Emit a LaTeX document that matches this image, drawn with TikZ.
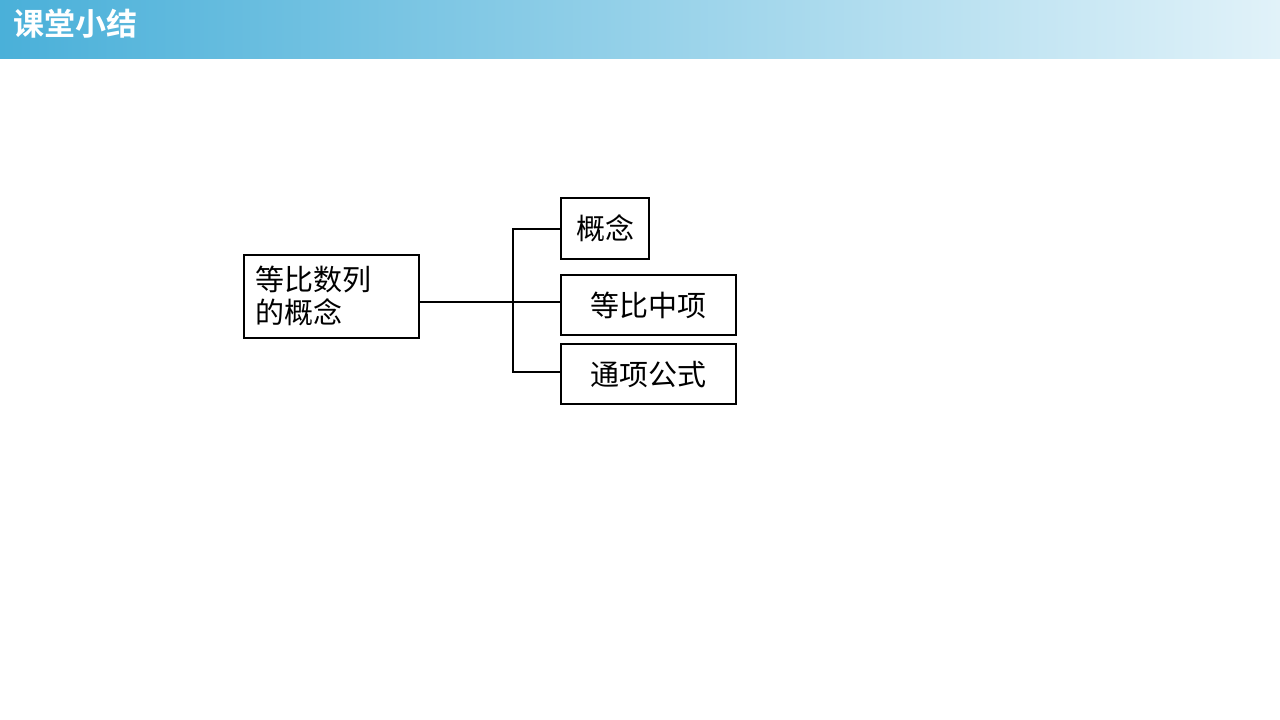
\documentclass[tikz,border=0pt]{standalone}
\usepackage{fontspec}
\newfontfamily\cjk{Noto Sans CJK SC}
\newfontfamily\cjkb{Noto Sans CJK SC Bold}
\begin{document}
\begin{tikzpicture}[x=1pt,y=-1pt,
  box/.style={draw,line width=2.2pt,inner sep=0pt,font=\cjk\fontsize{29}{33}\selectfont},
  conn/.style={line width=2pt}]
\useasboundingbox (0,0) rectangle (1280,720);
\fill[white] (0,0) rectangle (1280,720);
\shade[left color={rgb,255:red,74;green,176;blue,217}, right color={rgb,255:red,225;green,242;blue,249}] (0,0) rectangle (1280,58);
\node[anchor=west,text=white,font=\cjkb\fontsize{31}{34}\selectfont] (title) at (10,24) {课堂小结};
\node[box,minimum width=175pt,minimum height=83pt,anchor=north west,align=left] (main) at (243,254) {};
\node[anchor=west,align=left,font=\cjk\fontsize{29}{33}\selectfont,inner sep=0pt] (maint) at (255,296) {等比数列\\的概念};
\node[box,minimum width=88pt,minimum height=61pt,anchor=north west] (b1) at (560,197) {概念};
\node[box,minimum width=175pt,minimum height=60pt,anchor=north west] (b2) at (560,274) {等比中项};
\node[box,minimum width=175pt,minimum height=60pt,anchor=north west] (b3) at (560,343) {通项公式};
\coordinate (j) at (513,302);
\draw[conn] (main.east |- j) -- (b2.west |- j);
\draw[conn] (b1.west) -| (513,234) -- (513,372) -- (b3.west |- 0,372);
\end{tikzpicture}
\end{document}
